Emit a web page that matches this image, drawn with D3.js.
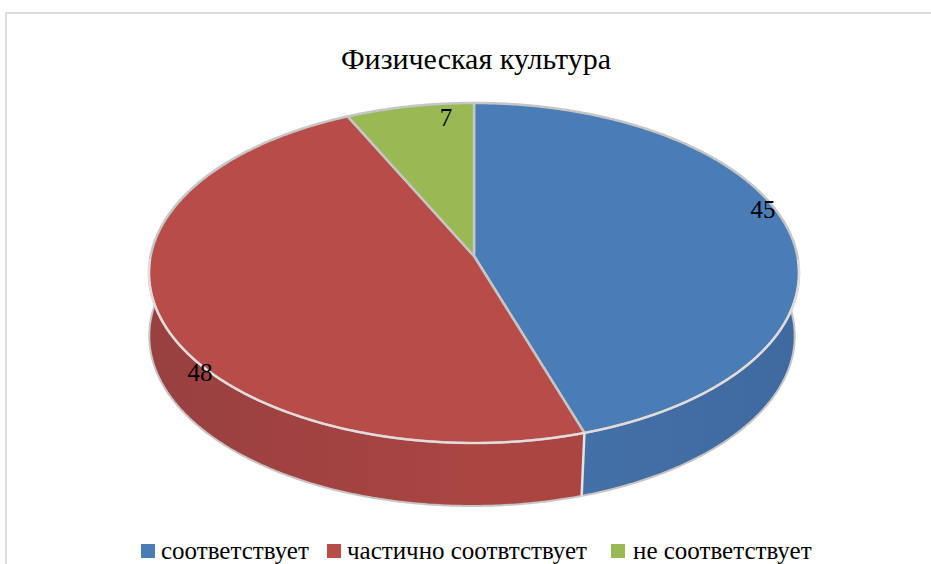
<!DOCTYPE html>
<html><head><meta charset="utf-8">
<script src="https://cdn.jsdelivr.net/npm/d3@7"></script>
<style>html,body{margin:0;padding:0;background:#fff}svg{display:block}text{font-family:"Liberation Serif",serif;fill:#000}</style>
</head><body><svg id="c" width="931" height="564"></svg>
<script>
const categories = ["соответствует", "частично соотвтствует", "не соответствует"];
const values = [45, 48, 7];
const colors = ["#4a7cb6", "#b84c49", "#98b954"];
const wallDark = ["#3f6aa0", "#984040", "#7f9a46"];
const wallLight = ["#4673ac", "#aa4542", "#8aa84d"];
const titleText = "Физическая культура";

const W = 931, H = 564;
const cx = 474, cy = 273, rx = 325, ry = 170, persp = 0.1, depth = 63, bottomScale = 0.993, bottomShift = -2;
const svg = d3.select("#c");

// perspective projection of the unit disc on to the page
const sx = d3.scaleLinear().domain([-1, 1]).range([cx - rx, cx + rx]);
const sy = d3.scaleLinear().domain([-1, 1]).range([cy - ry, cy + ry]);
function project(a, r, scale, dy, dx = 0) {
  const u = Math.sin(a) * r, v = -Math.cos(a) * r;
  const d = 1 - persp * v;
  const X = (u * Math.sqrt(1 - persp * persp)) / d;
  const Y = (v - persp) / d;
  return [cx + dx + (sx(X) - cx) * scale, sy(Y) + dy];
}
const line = d3.line();
const arcPts = (a0, a1, scale, dy, dx = 0) => {
  const n = Math.max(2, Math.ceil(Math.abs(a1 - a0) / 0.01));
  return d3.range(n + 1).map(i => project(a0 + (a1 - a0) * i / n, 1, scale, dy, dx));
};
const slices = d3.pie().sort(null).value(d => d)(values);

// frame
svg.append("path").attr("d", line([[6, H], [6, 13], [W, 13]]))
  .attr("fill", "none").attr("stroke", "#dcdcdc").attr("stroke-width", 2);

// gradients for walls
const defs = svg.append("defs");
slices.forEach((s, i) => {
  const g = defs.append("linearGradient").attr("id", "w" + i)
    .attr("gradientUnits", "userSpaceOnUse")
    .attr("x1", cx - rx).attr("x2", cx + rx).attr("y1", 0).attr("y2", 0);
  const left = i === 1;
  g.append("stop").attr("offset", 0).attr("stop-color", left ? wallDark[i] : wallLight[i]);
  g.append("stop").attr("offset", 0.5).attr("stop-color", wallLight[i]);
  g.append("stop").attr("offset", 1).attr("stop-color", left ? wallLight[i] : wallDark[i]);
});

// side walls
const lo = Math.PI / 2 - 0.12, hi = 1.5 * Math.PI + 0.12;
slices.forEach((s, i) => {
  const a0 = Math.max(s.startAngle, lo), a1 = Math.min(s.endAngle, hi);
  if (a1 <= a0) return;
  const top = arcPts(a0, a1, 1, 0);
  const bot = arcPts(a1, a0, bottomScale, depth, bottomShift);
  svg.append("path").attr("d", line(top.concat(bot)) + "Z")
    .attr("fill", `url(#w${i})`).attr("stroke", "none");
  svg.append("path").attr("d", line(arcPts(a0, a1, bottomScale, depth, bottomShift)))
    .attr("fill", "none").attr("stroke", "#c8c4c4").attr("stroke-width", 2);
});
// wall seams
slices.forEach(s => {
  const a = s.startAngle;
  if (a > lo && a < hi) {
    svg.append("path").attr("d", line([project(a, 1, 1, 0), project(a, 1, bottomScale, depth, bottomShift)]))
      .attr("fill", "none").attr("stroke", "#e6e2e2").attr("stroke-width", 2.5);
  }
});

// top faces
slices.forEach((s, i) => {
  const pts = [project(0, 0, 1, 0)].concat(arcPts(s.startAngle, s.endAngle, 1, 0));
  svg.append("path").attr("d", line(pts) + "Z")
    .attr("fill", colors[i]).attr("stroke", "#c6c6c6").attr("stroke-width", 2.5)
    .attr("stroke-linejoin", "round");
});
// bright front rim
svg.append("path").attr("d", line(arcPts(Math.PI / 2 + 0.02, 1.5 * Math.PI - 0.02, 1, 0)))
  .attr("fill", "none").attr("stroke", "#e4dcdc").attr("stroke-width", 2.2);

// title
svg.append("text").attr("x", 476).attr("y", 69).attr("text-anchor", "middle")
  .attr("font-size", 30).text(titleText);

// data labels
const labelPos = [[763, 218], [200, 381], [446, 126]];
values.forEach((v, i) => {
  svg.append("text").attr("x", labelPos[i][0]).attr("y", labelPos[i][1])
    .attr("text-anchor", "middle").attr("font-size", 25).text(v);
});

// legend
const legendX = [141, 327, 611], legendText = [161, 347, 633];
categories.forEach((c, i) => {
  svg.append("rect").attr("x", legendX[i]).attr("y", 544).attr("width", 14).attr("height", 14).attr("fill", colors[i]);
  svg.append("text").attr("x", legendText[i]).attr("y", 558.5).attr("font-size", 25).text(c);
});
</script></body></html>
